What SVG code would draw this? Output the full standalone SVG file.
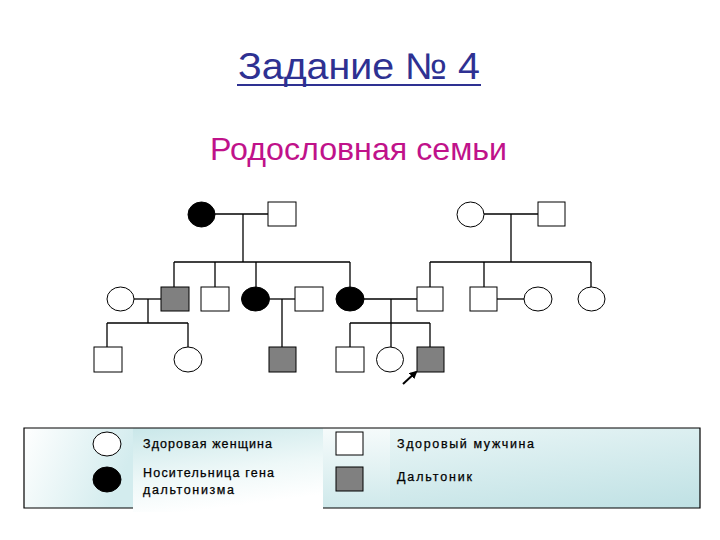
<svg xmlns="http://www.w3.org/2000/svg" width="720" height="540" viewBox="0 0 720 540">
<style>
.ln{stroke:#000;stroke-width:1.3;fill:none}
.w{fill:#fff;stroke:#000;stroke-width:1}
.b{fill:#000;stroke:#000;stroke-width:1}
.g{fill:#808080;stroke:#000;stroke-width:1}
.lg{font-family:"Liberation Sans",Arial,sans-serif;font-size:12.5px;fill:#000;stroke:#000;stroke-width:0.25}
</style>
<defs>
<linearGradient id="gl" x1="0" y1="0" x2="1" y2="0.3"><stop offset="0" stop-color="#ffffff"/><stop offset="1" stop-color="#d3ecee"/></linearGradient>
<linearGradient id="gm" x1="0" y1="0" x2="0.3" y2="1"><stop offset="0" stop-color="#c9e7e9"/><stop offset="0.6" stop-color="#eef8f8"/><stop offset="1" stop-color="#ffffff"/></linearGradient>
<linearGradient id="gr" x1="0" y1="0" x2="1" y2="1"><stop offset="0" stop-color="#f2fafa"/><stop offset="0.4" stop-color="#e2f2f3"/><stop offset="1" stop-color="#bfe1e4"/></linearGradient>
<linearGradient id="gs" x1="0" y1="0" x2="0" y2="1"><stop offset="0" stop-color="#f6fbfb"/><stop offset="1" stop-color="#cfe9eb"/></linearGradient>
<marker id="ah" markerWidth="8" markerHeight="8" refX="6" refY="4" orient="auto" markerUnits="userSpaceOnUse"><path d="M0,0 L8,4 L0,8 Z" fill="#000"/></marker>
</defs>

<g id="title">
<text x="238" y="79" font-family="'Liberation Sans',Arial,sans-serif" font-size="37" fill="#2e3192" textLength="242" lengthAdjust="spacingAndGlyphs">Задание № 4</text>
<line x1="237" y1="85" x2="481" y2="85" stroke="#2e3192" stroke-width="2"/>
</g>
<g id="subtitle">
<text x="210" y="160" font-family="'Liberation Sans',Arial,sans-serif" font-size="32" fill="#c0128a" textLength="297" lengthAdjust="spacingAndGlyphs">Родословная семьи</text>
</g>

<g id="connectors">
<line class="ln" x1="215" y1="214" x2="268" y2="214"/>
<line class="ln" x1="243" y1="214" x2="243" y2="262"/>
<line class="ln" x1="174" y1="262" x2="350" y2="262"/>
<line class="ln" x1="174" y1="262" x2="174" y2="287"/>
<line class="ln" x1="215" y1="262" x2="215" y2="287"/>
<line class="ln" x1="256" y1="262" x2="256" y2="287"/>
<line class="ln" x1="350" y1="262" x2="350" y2="287"/>
<line class="ln" x1="484" y1="214" x2="538" y2="214"/>
<line class="ln" x1="511" y1="214" x2="511" y2="262"/>
<line class="ln" x1="430" y1="262" x2="591" y2="262"/>
<line class="ln" x1="430" y1="262" x2="430" y2="287"/>
<line class="ln" x1="484" y1="262" x2="484" y2="287"/>
<line class="ln" x1="591" y1="262" x2="591" y2="287"/>
<line class="ln" x1="134" y1="299" x2="161" y2="299"/>
<line class="ln" x1="148" y1="299" x2="148" y2="323"/>
<line class="ln" x1="107" y1="323" x2="188" y2="323"/>
<line class="ln" x1="107" y1="323" x2="107" y2="347"/>
<line class="ln" x1="188" y1="323" x2="188" y2="347"/>
<line class="ln" x1="270" y1="299" x2="295" y2="299"/>
<line class="ln" x1="282" y1="299" x2="282" y2="347"/>
<line class="ln" x1="364" y1="299" x2="417" y2="299"/>
<line class="ln" x1="391" y1="299" x2="391" y2="347"/>
<line class="ln" x1="350" y1="323" x2="430" y2="323"/>
<line class="ln" x1="350" y1="323" x2="350" y2="347"/>
<line class="ln" x1="430" y1="323" x2="430" y2="347"/>
<line class="ln" x1="497" y1="299" x2="524" y2="299"/>
<line x1="403" y1="384" x2="416" y2="372" stroke="#000" stroke-width="2" marker-end="url(#ah)"/>
</g>

<g id="n1"><ellipse class="b" cx="201.5" cy="214.5" rx="13.5" ry="12.5"/></g>
<g id="n2"><rect class="w" x="268" y="202" width="28" height="24"/></g>
<g id="n3"><ellipse class="w" cx="470.5" cy="214.5" rx="13.5" ry="12.5"/></g>
<g id="n4"><rect class="w" x="538" y="202" width="27" height="24"/></g>

<g id="n5"><ellipse class="w" cx="120.5" cy="299" rx="13.5" ry="12"/></g>
<g id="n6"><rect class="g" x="161" y="287" width="28" height="24"/></g>
<g id="n7"><rect class="w" x="201" y="287" width="28" height="24"/></g>
<g id="n8"><ellipse class="b" cx="255.5" cy="299" rx="14" ry="12"/></g>
<g id="n9"><rect class="w" x="295" y="287" width="28" height="24"/></g>
<g id="n10"><ellipse class="b" cx="350" cy="299" rx="14" ry="12"/></g>
<g id="n11"><rect class="w" x="417" y="287" width="26" height="24"/></g>
<g id="n12"><rect class="w" x="470" y="287" width="27" height="24"/></g>
<g id="n13"><ellipse class="w" cx="538" cy="299" rx="14" ry="12"/></g>
<g id="n14"><ellipse class="w" cx="591.5" cy="299" rx="13.5" ry="12"/></g>

<g id="n15"><rect class="w" x="94" y="347" width="28" height="25"/></g>
<g id="n16"><ellipse class="w" cx="188" cy="359.5" rx="14" ry="12.5"/></g>
<g id="n17"><rect class="g" x="269" y="347" width="27" height="25"/></g>
<g id="n18"><rect class="w" x="336" y="347" width="28" height="25"/></g>
<g id="n19"><ellipse class="w" cx="390" cy="359.5" rx="13.5" ry="12.5"/></g>
<g id="n20"><rect class="g" x="417" y="347" width="27" height="25"/></g>

<g id="legend">
<rect x="24" y="428" width="676" height="80" fill="url(#gr)"/>
<rect x="24" y="428" width="109" height="80" fill="url(#gl)"/>
<rect x="323" y="428" width="67" height="80" fill="url(#gs)"/>
<rect x="133" y="428" width="190" height="84" fill="url(#gm)"/>
<path d="M133,508 L24,508 L24,428 L700,428 L700,508 L323,508" fill="none" stroke="#000" stroke-width="1.2"/>
<ellipse class="w" cx="107" cy="444" rx="14" ry="12"/>
<ellipse class="b" cx="107" cy="479.5" rx="14" ry="12.5"/>
<rect class="w" x="336" y="432" width="27" height="23"/>
<rect class="g" x="336" y="467" width="27" height="24"/>
<text class="lg" x="143" y="448" textLength="129" lengthAdjust="spacing">Здоровая женщина</text>
<text class="lg" x="143" y="477" textLength="131" lengthAdjust="spacing">Носительница гена</text>
<text class="lg" x="143" y="494" textLength="91" lengthAdjust="spacing">дальтонизма</text>
<text class="lg" x="397" y="448" textLength="137" lengthAdjust="spacing">Здоровый мужчина</text>
<text class="lg" x="397" y="481" textLength="75" lengthAdjust="spacing">Дальтоник</text>
</g>
</svg>
